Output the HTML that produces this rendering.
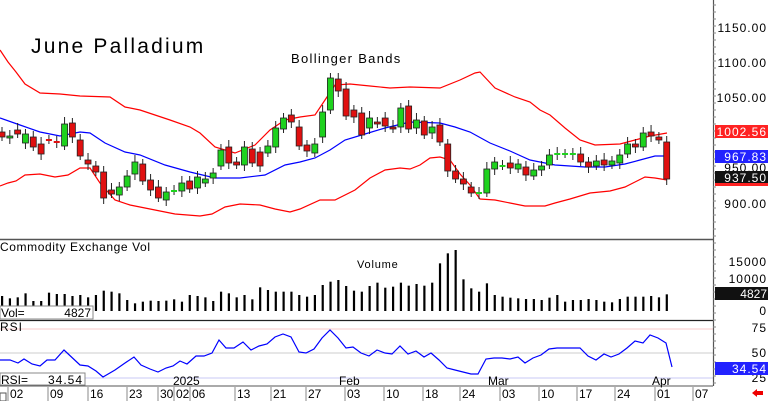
<!DOCTYPE html>
<html><head><meta charset="utf-8"><style>
html,body{margin:0;padding:0;background:#fff;}
svg{display:block;font-family:"Liberation Sans",sans-serif;}
</style></head><body>
<svg id="s" width="768" height="401" viewBox="0 0 768 401" xmlns="http://www.w3.org/2000/svg">
<rect width="768" height="401" fill="#fff"/>
<g id="grid"></g>
<polyline fill="none" stroke="#f00" stroke-width="1.2" points="0,50 8,62 16,72 25,84 40,93 60,94 80,96 110,97 125,107 140,110 170,120 190,127 200,133 215,147 235,153 255,145 270,130 285,120 300,117 315,115 325,100 335,85 350,84 370,86 390,88 410,87 440,88 460,80 475,73 480,72 495,88 515,97 530,102 540,110 550,115 565,128 580,140 595,145 620,144 635,140 650,136 667,133"/>
<polyline fill="none" stroke="#00f" stroke-width="1.2" points="0,118 20,125 40,132 60,136 80,132 90,133 105,143 125,152 140,155 165,165 190,172 215,178 240,178 265,175 285,165 300,162 315,158 330,150 345,140 365,134 385,128 410,122 440,123 455,127 470,132 490,143 510,151 530,160 555,165 585,167 605,167 625,164 640,160 655,156 667,156"/>
<polyline fill="none" stroke="#f00" stroke-width="1.2" points="0,186 8,183 16,181 25,175 40,174 55,177 68,175 80,168 90,168 100,183 115,200 130,205 155,210 175,214 200,216 212,214 225,207 240,204 260,205 275,209 290,212 300,209 320,200 335,200 355,190 370,178 385,170 400,168 410,169 420,165 430,158 440,157 450,160 460,174 470,185 480,199 495,200 510,203 525,206 545,206 555,203 570,199 590,193 610,191 625,187 635,182 645,177 655,178 667,180"/>
<g id="candles"></g>
<g id="vol"></g>
<line x1="0" y1="329" x2="713" y2="329" stroke="#f9c8c8"/>
<line x1="0" y1="353" x2="713" y2="353" stroke="#ccc"/>
<line x1="0" y1="378" x2="713" y2="378" stroke="#c8c8f5"/>
<polyline fill="none" stroke="#00f" stroke-width="1.2" points="0,360 10,360 18,363 24,359 32,364 40,366 47,360 55,360 64,350 80,365 88,366 96,371 103,377 115,370 125,363 134,357 141,365 150,369 158,372 166,368 173,366 180,361 187,364 196,356 204,356 212,353 219,340 226,348 234,348 243,342 251,350 259,346 267,344 275,337 283,334 291,337 299,352 306,353 314,349 322,338 330,330 338,338 346,348 353,347 361,353 369,356 377,350 385,353 392,354 400,346 408,354 416,351 424,357 431,353 439,360 447,368 455,370 463,372 471,374 478,374 486,359 494,358 502,358 510,359 518,357 525,363 533,358 541,355 549,349 557,348 565,348 580,348 588,356 596,360 604,354 611,357 619,354 627,348 635,341 643,343 650,335 658,338 666,343 672,367"/>
<line x1="0" y1="239.5" x2="713" y2="239.5" stroke="#555" stroke-width="1.5"/>
<line x1="0" y1="320.5" x2="713" y2="320.5" stroke="#222" stroke-width="1.2"/>
<line x1="0" y1="386" x2="713" y2="386" stroke="#555" stroke-width="1"/>
<line x1="713.5" y1="0" x2="713.5" y2="386" stroke="#555" stroke-width="1.2"/>
<g id="ticks"></g>
<text x="31" y="53" font-size="21" letter-spacing="2.2" fill="#000">June Palladium</text>
<text x="291" y="63" font-size="13" letter-spacing="1.3" fill="#000">Bollinger Bands</text>
<text x="0" y="251" font-size="12" letter-spacing="0.6" fill="#000">Commodity Exchange Vol</text>
<text x="357" y="268" font-size="11" letter-spacing="0.8" fill="#000">Volume</text>
<rect x="0" y="306" width="93" height="13" fill="#fff" stroke="#888"/>
<text x="1" y="317" font-size="12" fill="#000">Vol=</text>
<text x="91" y="317" font-size="12" text-anchor="end" fill="#000">4827</text>
<text x="0" y="331" font-size="12" letter-spacing="1" fill="#000">RSI</text>
<rect x="0" y="373" width="85" height="12" fill="#fff" stroke="#888"/>
<text x="1" y="384" font-size="12" fill="#000">RSI=</text>
<text x="83" y="384" font-size="12" text-anchor="end" letter-spacing="1" fill="#000">34.54</text>
<text x="173" y="385" font-size="12" fill="#000">2025</text>
<text x="339" y="385" font-size="12" fill="#000">Feb</text>
<text x="488" y="385" font-size="12" fill="#000">Mar</text>
<text x="652" y="385" font-size="12" fill="#000">Apr</text>
<g id="dates" font-size="12" fill="#000"></g>
<rect x="0" y="393" width="6" height="8" fill="#fff" stroke="#555"/>
<g font-size="12" fill="#000" text-anchor="end" letter-spacing="1">
<text x="767" y="32">1150.00</text>
<text x="767" y="67">1100.00</text>
<text x="767" y="102">1050.00</text>
<text x="767" y="172">950.00</text>
<text x="767" y="208">900.00</text>
<text x="767" y="266">15000</text>
<text x="767" y="283">10000</text>
<text x="767" y="315">0</text>
<text x="767" y="332">75</text>
<text x="767" y="357">50</text>
<text x="767" y="382">25</text>
</g>
<rect x="715" y="125" width="53" height="13" fill="#f22"/>
<text x="767" y="136" font-size="12" fill="#fff" text-anchor="end" letter-spacing="1">1002.56</text>
<rect x="715" y="150" width="53" height="13" fill="#22f"/>
<text x="767" y="161" font-size="12" fill="#fff" text-anchor="end" letter-spacing="1">967.83</text>
<rect x="715" y="171" width="53" height="12" fill="#111"/>
<rect x="715" y="183" width="53" height="3" fill="#f22"/>
<text x="767" y="182" font-size="12" fill="#fff" text-anchor="end" letter-spacing="1">937.50</text>
<rect x="715" y="287" width="53" height="13" fill="#111"/>
<text x="767" y="298" font-size="12" fill="#fff" text-anchor="end">4827</text>
<rect x="715" y="362" width="53" height="13" fill="#22f"/>
<text x="767" y="373" font-size="12" fill="#fff" text-anchor="end" letter-spacing="1">34.54</text>
<polygon points="752,393 757,389 757,391 763,391 763,395 757,395 757,397" fill="#e00"/>
</svg>
<script>
(function(){
var NS="http://www.w3.org/2000/svg";
function el(p,t,a){var e=document.createElementNS(NS,t);for(var k in a)e.setAttribute(k,a[k]);document.getElementById(p).appendChild(e);return e;}
var C=[137,136,134,134,147,154,140,142,124,137,156,164,172,198,194,187,176,162,181,190,198,192,191,183,189,177,179,173,150,163,165,147,163,166,146,128,118,122,146,151,144,112,78,91,116,117,135,118,124,126,129,108,129,120,135,127,142,171,179,184,193,193,169,162,166,168,164,175,170,166,155,154,154,154,162,167,161,165,161,155,144,147,133,136,140,179];
var O=[132,138,130,143,137,144,140,142,146,123,140,160,166,172,190,195,187,174,164,180,187,200,191,191,181,188,183,178,166,147,162,165,149,152,153,147,129,115,127,145,153,137,110,79,89,110,113,128,122,118,127,127,106,128,121,133,125,144,171,179,187,193,193,169,166,163,169,167,176,170,165,154,154,154,154,162,166,160,165,163,154,144,147,132,137,142];
var dj={6:1,7:1,22:1,61:1,64:1,71:1,72:1,73:1};
for(var i=0;i<C.length;i++){var x=2+7.82*i,o=O[i],c=C[i],t=Math.min(o,c),b=Math.max(o,c);
var up=c<o;var col=up?"#1ed21e":"#e01010";
if(dj[i]){col=i==7||i==6?"#e01010":"#1ed21e";}
el("candles","line",{x1:x,y1:t-5-(i%3),x2:x,y2:b+4+(i%2)*2,stroke:"#222","stroke-width":1});
if(b-t<2){el("candles","rect",{x:x-3,y:t-1,width:6,height:2,fill:col});}
else el("candles","rect",{x:x-3,y:t,width:6,height:b-t,fill:col,stroke:"#222","stroke-width":0.8});}
var V=[168,175,172,160,183,183,158,162,162,168,165,172,165,152,155,160,180,190,185,182,183,182,178,185,165,168,172,183,155,160,172,165,178,142,150,155,155,155,165,170,165,135,125,120,
138,152,155,138,128,143,140,128,137,132,137,128,70,40,30,118,145,155,130,165,170,173,175,177,177,180,173,165,185,180,180,177,180,185,187,177,170,170,170,168,172,163];
for(var i=0;i<V.length;i++){var x=2+7.82*i;var vt=240+V[i]/3;el("vol","rect",{x:x-1,y:vt,width:2.2,height:311-vt,fill:"#000"});}
var D=[[8,"02"],[48,"09"],[88,"16"],[127,"23"],[158,"30"],[174,"02"],[190,"06"],[235,"13"],[271,"21"],[306,"27"],[345,"03"],[384,"10"],[423,"18"],[460,"24"],[500,"03"],[539,"10"],[577,"17"],[615,"24"],[655,"01"],[693,"07"]];
D.forEach(function(d){el("ticks","line",{x1:d[0],y1:387,x2:d[0],y2:401,stroke:"#888"});var t=el("dates","text",{x:d[0]+2,y:398});t.textContent=d[1];});
for(var y=5;y<386;y+=7){el("ticks","line",{x1:713,y1:y,x2:716,y2:y,stroke:"#888"});}
})();
</script>
</body></html>
